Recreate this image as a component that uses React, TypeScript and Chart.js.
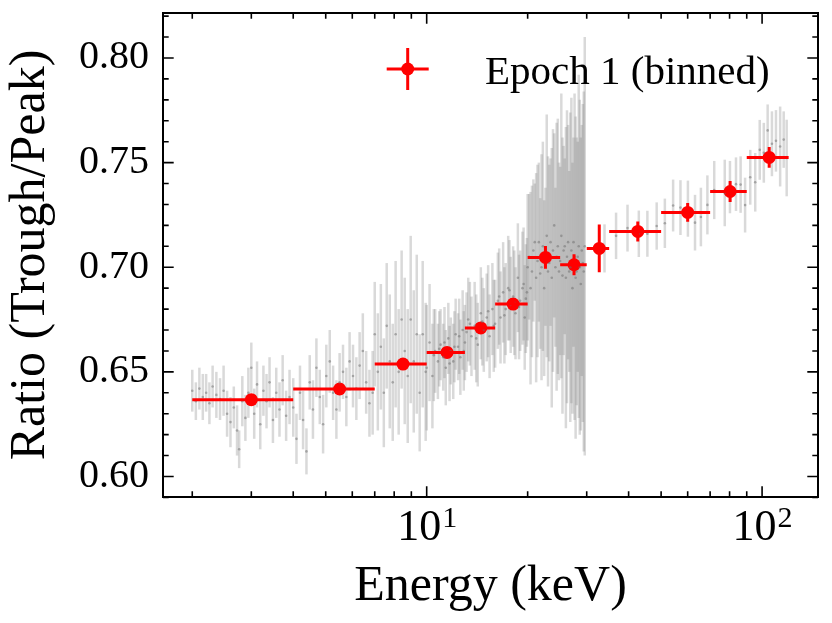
import React, { useEffect, useRef } from "react";
import { Chart, registerables } from "chart.js";

Chart.register(...registerables);

const FONT = "'Liberation Serif', 'Times New Roman', serif";

// unbinned ratio (grey), one row per energy band
const grayEnergy = [
  2.0, 2.05, 2.1, 2.15, 2.2, 2.25, 2.3, 2.36, 2.42, 2.48, 2.54, 2.6, 2.66, 2.72, 2.76, 2.82, 2.88, 2.94, 3.0, 3.06, 3.12, 3.19, 3.26, 3.33, 3.4, 3.48, 3.56, 3.64, 3.72, 3.81, 3.9,
  4.0, 4.09, 4.19, 4.28, 4.38, 4.48, 4.58, 4.69, 4.8, 4.91, 5.02, 5.14, 5.26, 5.38, 5.5, 5.63, 5.76, 5.89, 6.03, 6.17, 6.31, 6.45, 6.6, 6.75, 6.9,
  7.0, 7.15, 7.3, 7.45, 7.6, 7.76, 7.92, 8.08, 8.25, 8.42, 8.6, 8.78, 8.96, 9.15, 9.34, 9.53, 9.73, 9.93,
  10.0, 10.2, 10.4, 10.6, 10.8, 11.0, 11.2, 11.4, 11.6, 11.8, 12.0, 12.2, 12.4, 12.6, 12.8, 13.0, 13.3, 13.6, 13.9, 14.2, 14.5, 14.8, 15.1, 15.4, 15.7, 16.0, 16.3, 16.6, 16.9, 17.2, 17.5, 17.8, 18.1, 18.4, 18.7, 19.0, 19.3, 19.6, 19.9,
  20.0, 20.4, 20.8, 21.2, 21.6, 22.0, 22.4, 22.8, 23.2, 23.6, 24.0, 24.4, 24.8, 25.2, 25.6, 26.0, 26.4, 26.8, 27.2, 27.6, 28.0, 28.4, 28.8, 29.2, 29.6,
  33.9, 36.7, 39.7, 42.9, 45.5, 48.5, 51.3, 54.3, 57.1, 60.1, 63.1, 65.7, 68.7, 72.0, 77.4, 80.2, 83.6, 86.3, 89.0, 92.2, 95.4, 98.4, 101.2, 103.9, 107.0, 110.0, 113.2, 116.0, 118.4,
];
const grayRatio = [
  0.641, 0.636, 0.642, 0.638, 0.64, 0.635, 0.643, 0.639, 0.637, 0.641, 0.63, 0.626, 0.633, 0.622, 0.613, 0.636, 0.628, 0.64, 0.652, 0.63, 0.644, 0.625, 0.641, 0.636, 0.645, 0.627, 0.64, 0.632, 0.646, 0.629, 0.638,
  0.633, 0.618, 0.64, 0.627, 0.612, 0.645, 0.632, 0.652, 0.638, 0.625, 0.648, 0.655, 0.64, 0.632, 0.645, 0.65, 0.638, 0.655, 0.648, 0.642, 0.653, 0.66, 0.645, 0.635, 0.64,
  0.668, 0.65, 0.662, 0.64, 0.672, 0.655, 0.645, 0.668, 0.65, 0.675, 0.66, 0.648, 0.675, 0.655, 0.668, 0.64, 0.668, 0.65,
  0.652, 0.664, 0.648, 0.66, 0.655, 0.663, 0.657, 0.652, 0.666, 0.66, 0.655, 0.668, 0.662, 0.657, 0.67, 0.664, 0.675, 0.667, 0.672, 0.663, 0.678, 0.67, 0.676, 0.667, 0.68, 0.673, 0.684, 0.676, 0.688, 0.68, 0.69, 0.682, 0.686, 0.678, 0.695, 0.684, 0.69, 0.676, 0.688,
  0.7, 0.69, 0.708, 0.695, 0.712, 0.7, 0.69, 0.715, 0.702, 0.695, 0.72, 0.705, 0.698, 0.715, 0.708, 0.695, 0.712, 0.7, 0.69, 0.705, 0.698, 0.71, 0.692, 0.702, 0.71,
  0.709, 0.715, 0.7187, 0.716, 0.716, 0.7197, 0.721, 0.7295, 0.7285, 0.728, 0.7213, 0.724, 0.7298, 0.7369, 0.7355, 0.7383, 0.7397, 0.7395, 0.7297, 0.743, 0.7406, 0.7561, 0.7547, 0.7654, 0.759, 0.7604, 0.7577, 0.761, 0.7522,
];
const grayErr = [
  0.01, 0.009, 0.01, 0.011, 0.009, 0.01, 0.01, 0.011, 0.01, 0.012, 0.011, 0.012, 0.01, 0.012, 0.009, 0.012, 0.011, 0.012, 0.012, 0.012, 0.011, 0.012, 0.012, 0.013, 0.012, 0.011, 0.012, 0.013, 0.012, 0.012, 0.013,
  0.014, 0.012, 0.013, 0.014, 0.011, 0.013, 0.014, 0.014, 0.013, 0.014, 0.015, 0.015, 0.013, 0.014, 0.014, 0.013, 0.014, 0.014, 0.015, 0.015, 0.016, 0.018, 0.015, 0.016, 0.02,
  0.025, 0.028, 0.03, 0.026, 0.03, 0.032, 0.028, 0.035, 0.03, 0.033, 0.035, 0.032, 0.04, 0.034, 0.038, 0.028, 0.035, 0.033,
  0.03, 0.028, 0.025, 0.02, 0.018, 0.017, 0.016, 0.018, 0.017, 0.016, 0.018, 0.017, 0.016, 0.018, 0.019, 0.018, 0.02, 0.019, 0.021, 0.02, 0.022, 0.02, 0.021, 0.02, 0.022, 0.021, 0.023, 0.022, 0.024, 0.022, 0.025, 0.023, 0.024, 0.022, 0.026, 0.024, 0.027, 0.025, 0.026,
  0.035, 0.046, 0.034, 0.05, 0.038, 0.054, 0.042, 0.058, 0.047, 0.062, 0.044, 0.064, 0.052, 0.068, 0.05, 0.072, 0.056, 0.074, 0.06, 0.078, 0.064, 0.082, 0.07, 0.076, 0.1,
  0.0115, 0.0111, 0.0112, 0.0111, 0.011, 0.0113, 0.0118, 0.0124, 0.0131, 0.0134, 0.0133, 0.014, 0.0141, 0.0139, 0.0159, 0.0125, 0.0128, 0.0135, 0.0131, 0.0131, 0.014, 0.0143, 0.0143, 0.0124, 0.0155, 0.0147, 0.0191, 0.0135, 0.0183,
];

// second, interleaved set of unbinned points in the dense 10-30 keV band
const denseEnergy = [
  10.5, 10.9, 11.3, 11.7, 12.1, 12.5, 12.9, 13.15, 13.45, 14.05, 14.65, 15.25, 15.85, 16.45, 17.05, 17.65, 18.25, 18.85, 19.45, 19.75,
  20.2, 20.6, 21.0, 21.4, 21.8, 22.2, 22.6, 23.0, 23.4, 23.8, 24.2, 24.6, 25.0, 25.4, 25.8, 26.2, 26.6, 27.0, 27.4, 27.8, 28.2, 28.6, 29.0, 29.4,
];
const denseRatio = [
  0.658, 0.661, 0.664, 0.654, 0.662, 0.667, 0.66, 0.669, 0.673, 0.666, 0.674, 0.679, 0.672, 0.686, 0.677, 0.689, 0.683, 0.681, 0.692, 0.685,
  0.705, 0.698, 0.712, 0.703, 0.697, 0.71, 0.705, 0.698, 0.712, 0.708, 0.7, 0.71, 0.703, 0.696, 0.71, 0.705, 0.698, 0.708, 0.712, 0.695, 0.705, 0.7, 0.708, 0.698,
];
const denseErr = [
  0.022, 0.018, 0.017, 0.018, 0.017, 0.018, 0.019, 0.019, 0.02, 0.021, 0.021, 0.022, 0.022, 0.023, 0.023, 0.024, 0.025, 0.025, 0.027, 0.026,
  0.03, 0.041, 0.028, 0.046, 0.036, 0.05, 0.033, 0.055, 0.04, 0.058, 0.038, 0.061, 0.045, 0.066, 0.042, 0.07, 0.048, 0.073, 0.05, 0.077, 0.055, 0.08, 0.06, 0.086,
];

// binned ratio (red)
const binEnergy = [3.0, 5.5, 8.5, 11.5, 14.5, 18.1, 22.6, 27.5, 32.7, 42.6, 60, 80.3, 105];
const binLow = [2, 4, 7, 10, 13, 16, 20, 25, 30, 35, 50, 70, 90];
const binHigh = [4, 7, 10, 13, 16, 20, 25, 30, 35, 50, 70, 90, 120];
const binRatio = [0.6367, 0.6418, 0.6537, 0.6593, 0.671, 0.6824, 0.7047, 0.7012, 0.709, 0.7171, 0.7262, 0.7362, 0.7525];
const binErr = [0.002, 0.002, 0.002, 0.002, 0.002, 0.002, 0.0054, 0.005, 0.0114, 0.0048, 0.0045, 0.005, 0.005];

const yMajor = [0.6, 0.65, 0.7, 0.75, 0.8];
const xMajor = [10, 100];
const xMajorExp = ["1", "2"];

const allEnergy = grayEnergy.concat(denseEnergy);
const allRatio = grayRatio.concat(denseRatio);
const allErr = grayErr.concat(denseErr);

export default function App() {
  const canvasRef = useRef<HTMLCanvasElement>(null);

  useEffect(() => {
    const decorations = {
      id: "decorations",
      beforeDatasetsDraw(chart: any) {
        const { ctx, scales: { x, y } } = chart;
        ctx.save();
        ctx.strokeStyle = "rgba(128,128,128,0.3)";
        ctx.lineWidth = 2.5;
        allEnergy.forEach((e, i) => {
          const px = x.getPixelForValue(e);
          ctx.beginPath();
          ctx.moveTo(px, y.getPixelForValue(allRatio[i] - allErr[i]));
          ctx.lineTo(px, y.getPixelForValue(allRatio[i] + allErr[i]));
          ctx.stroke();
        });
        ctx.restore();
      },
      afterDatasetDraw(chart: any, args: any) {
        if (args.index !== 0) return;
        const { ctx, scales: { x, y } } = chart;
        ctx.save();
        ctx.strokeStyle = "#ff0000";
        ctx.lineWidth = 3;
        binEnergy.forEach((e, i) => {
          const px = x.getPixelForValue(e);
          const py = y.getPixelForValue(binRatio[i]);
          ctx.beginPath();
          ctx.moveTo(x.getPixelForValue(binLow[i]), py);
          ctx.lineTo(x.getPixelForValue(binHigh[i]), py);
          ctx.moveTo(px, y.getPixelForValue(binRatio[i] - binErr[i]));
          ctx.lineTo(px, y.getPixelForValue(binRatio[i] + binErr[i]));
          ctx.stroke();
        });
        ctx.restore();
      },
      afterDraw(chart: any) {
        const { ctx, chartArea: a, scales: { x, y } } = chart;
        ctx.save();
        ctx.strokeStyle = "#000";
        ctx.lineWidth = 2;
        ctx.strokeRect(a.left, a.top, a.right - a.left, a.bottom - a.top);

        // inward ticks on all four sides
        ctx.lineWidth = 1.6;
        const tickX = (v: number, len: number) => {
          const px = x.getPixelForValue(v);
          if (px < a.left || px > a.right) return;
          ctx.beginPath();
          ctx.moveTo(px, a.bottom);
          ctx.lineTo(px, a.bottom - len);
          ctx.moveTo(px, a.top);
          ctx.lineTo(px, a.top + len);
          ctx.stroke();
        };
        const tickY = (v: number, len: number) => {
          const py = y.getPixelForValue(v);
          if (py < a.top - 0.5 || py > a.bottom + 0.5) return;
          ctx.beginPath();
          ctx.moveTo(a.left, py);
          ctx.lineTo(a.left + len, py);
          ctx.moveTo(a.right, py);
          ctx.lineTo(a.right - len, py);
          ctx.stroke();
        };
        for (const dec of [1, 10, 100]) {
          for (let m = 2; m <= 9; m++) tickX(dec * m, 5.7);
        }
        xMajor.forEach((v) => tickX(v, 10.7));
        for (let k = 59; k <= 82; k++) {
          if (k % 5 !== 0) tickY(k / 100, 5.7);
        }
        yMajor.forEach((v) => tickY(v, 10.7));

        // x tick labels as 10^n
        ctx.fillStyle = "#000";
        ctx.textBaseline = "alphabetic";
        ctx.textAlign = "left";
        xMajor.forEach((v, i) => {
          const px = x.getPixelForValue(v);
          ctx.font = `44px ${FONT}`;
          const w1 = ctx.measureText("10").width;
          ctx.font = `30px ${FONT}`;
          const w2 = ctx.measureText(xMajorExp[i]).width;
          const sx = px - (w1 + w2) / 2;
          ctx.font = `44px ${FONT}`;
          ctx.fillText("10", sx, 540);
          ctx.font = `30px ${FONT}`;
          ctx.fillText(xMajorExp[i], sx + w1 + 1, 527);
        });

        // axis titles
        ctx.font = `50px ${FONT}`;
        ctx.textAlign = "center";
        ctx.fillText("Energy (keV)", (a.left + a.right) / 2, 600);
        ctx.save();
        ctx.translate(44, (a.top + a.bottom) / 2);
        ctx.rotate(-Math.PI / 2);
        ctx.fillText("Ratio (Trough/Peak)", 0, 0);
        ctx.restore();

        // legend
        const lx = 407.7;
        const ly = 69;
        ctx.strokeStyle = "#ff0000";
        ctx.lineWidth = 3;
        ctx.beginPath();
        ctx.moveTo(lx - 21, ly);
        ctx.lineTo(lx + 21, ly);
        ctx.moveTo(lx, ly - 21);
        ctx.lineTo(lx, ly + 21);
        ctx.stroke();
        ctx.fillStyle = "#ff0000";
        ctx.beginPath();
        ctx.arc(lx, ly, 6.5, 0, Math.PI * 2);
        ctx.fill();
        ctx.fillStyle = "#000";
        ctx.font = `41px ${FONT}`;
        ctx.textAlign = "left";
        ctx.fillText("Epoch 1 (binned)", 485, 84);
        ctx.restore();
      },
    };

    const chart = new Chart(canvasRef.current as HTMLCanvasElement, {
      type: "scatter",
      data: {
        datasets: [
          {
            data: allEnergy.map((e, i) => ({ x: e, y: allRatio[i] })),
            pointRadius: 1.3,
            pointBackgroundColor: "rgba(110,110,110,0.5)",
            pointBorderWidth: 0,
          },
          {
            data: binEnergy.map((e, i) => ({ x: e, y: binRatio[i] })),
            pointRadius: 6.5,
            pointBackgroundColor: "#ff0000",
            pointBorderWidth: 0,
          },
        ],
      },
      options: {
        animation: false,
        responsive: true,
        maintainAspectRatio: false,
        layout: { padding: { top: 13, right: 14, left: 0, bottom: 0 } },
        plugins: { legend: { display: false }, tooltip: { enabled: false } },
        scales: {
          x: {
            type: "logarithmic",
            min: 1.636,
            max: 146.8,
            grid: { display: false, drawTicks: false },
            border: { display: false },
            ticks: { display: false },
            afterBuildTicks: (s: any) => {
              s.ticks = xMajor.map((v) => ({ value: v }));
            },
            afterFit: (s: any) => {
              s.height = 126;
              s.paddingLeft = 0;
              s.paddingRight = 0;
            },
          },
          y: {
            type: "linear",
            min: 0.5902,
            max: 0.8215,
            grid: { display: false, drawTicks: false },
            border: { display: false },
            ticks: {
              autoSkip: false,
              padding: 14,
              color: "#000",
              font: { family: FONT, size: 40 },
              callback: (v: any) => Number(v).toFixed(2),
            },
            afterBuildTicks: (s: any) => {
              s.ticks = yMajor.map((v) => ({ value: v }));
            },
            afterFit: (s: any) => {
              s.width = 163;
              s.paddingTop = 0;
              s.paddingBottom = 0;
            },
          },
        },
      },
      plugins: [decorations],
    } as any);

    return () => chart.destroy();
  }, []);

  return (
    <div style={{ position: "absolute", left: 0, top: 0, width: 832, height: 623, background: "#fff" }}>
      <canvas ref={canvasRef}></canvas>
    </div>
  );
}
